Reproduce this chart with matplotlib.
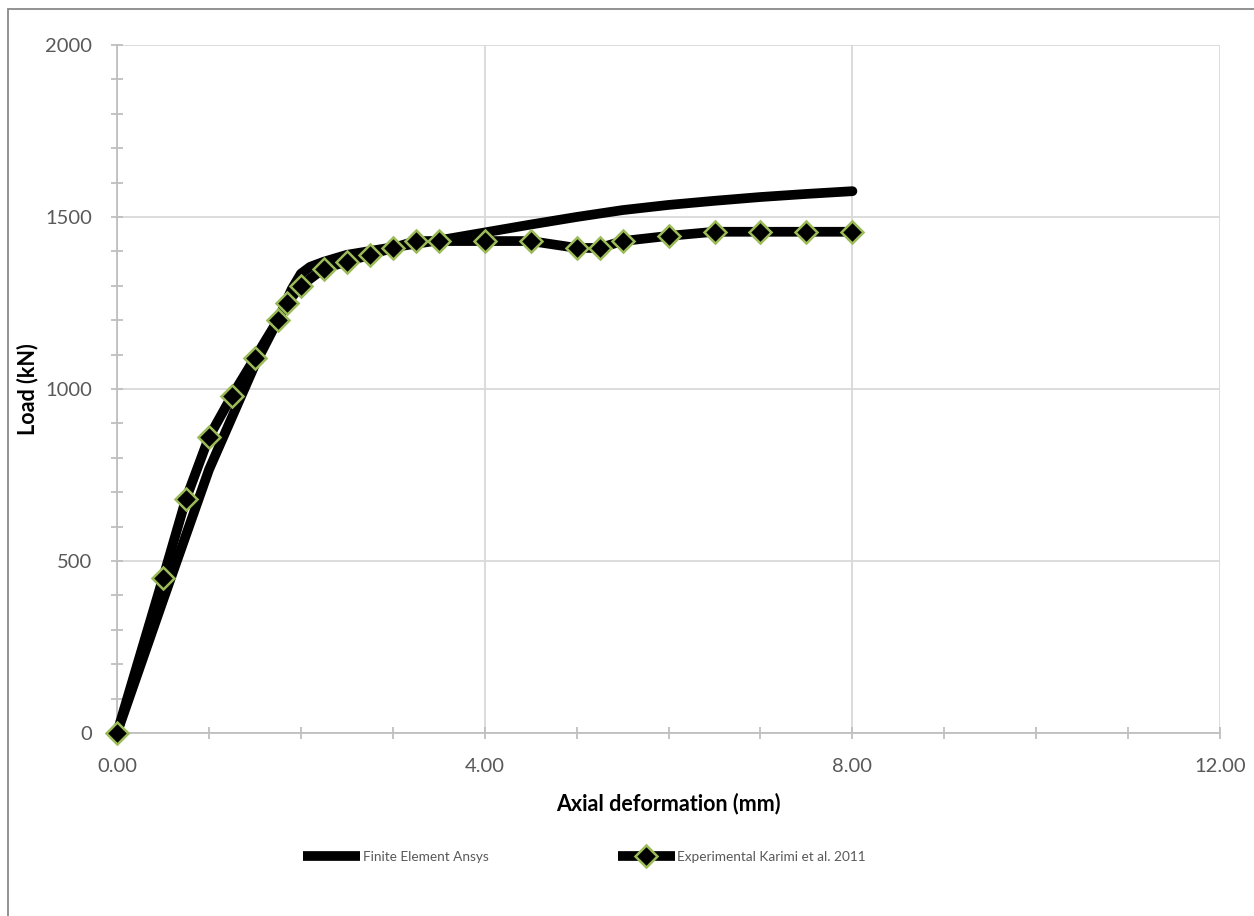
import matplotlib.pyplot as plt
from matplotlib.ticker import MultipleLocator, FormatStrFormatter
from matplotlib.patches import Rectangle

plt.rcParams['font.family'] = ['Lato', 'DejaVu Sans']

# Finite element curve (Ansys)
fe_x = [0, 0.5, 1.0, 1.5, 1.75, 1.9, 2.0, 2.1, 2.25, 2.5, 3.0, 3.5, 4.0,
        4.5, 5.0, 5.5, 6.0, 6.5, 7.0, 7.5, 8.0]
fe_y = [0, 385, 765, 1070, 1200, 1290, 1335, 1355, 1370, 1390, 1412, 1432,
        1455, 1478, 1500, 1520, 1535, 1547, 1558, 1567, 1575]

# Experimental data (Karimi et al. 2011)
exp_x = [0, 0.5, 0.75, 1.0, 1.25, 1.5, 1.75, 1.85, 2.0, 2.25, 2.5, 2.75, 3.0,
         3.25, 3.5, 4.0, 4.5, 5.0, 5.25, 5.5, 6.0, 6.5, 7.0, 7.5, 8.0]
exp_y = [0, 450, 680, 860, 980, 1090, 1200, 1250, 1300, 1350, 1370, 1390, 1410,
         1430, 1430, 1430, 1430, 1410, 1410, 1430, 1445, 1457, 1457, 1457, 1457]

fig = plt.figure(figsize=(12.54, 9.16), dpi=100)
ax = fig.add_axes([0.0933, 0.1998, 0.8797, 0.7511])

ax.plot(fe_x, fe_y, color='black', lw=7, solid_capstyle='round',
        solid_joinstyle='round', label='Finite Element Ansys', zorder=3)
ax.plot(exp_x, exp_y, color='black', lw=7, solid_joinstyle='round',
        marker='D', ms=11, mfc='black', mec='#9BBB59', mew=1.8,
        label='Experimental Karimi et al. 2011', zorder=4, clip_on=False)

ax.set_xlim(0, 12)
ax.set_ylim(0, 2000)
ax.xaxis.set_major_locator(MultipleLocator(4))
ax.xaxis.set_minor_locator(MultipleLocator(1))
ax.yaxis.set_major_locator(MultipleLocator(500))
ax.yaxis.set_minor_locator(MultipleLocator(100))
ax.xaxis.set_major_formatter(FormatStrFormatter('%.2f'))

ax.grid(True, which='major', color='#D9D9D9', lw=1.3, zorder=0)
ax.set_axisbelow(True)
for s in ['top', 'right']:
    ax.spines[s].set_visible(False)
for s in ['left', 'bottom']:
    ax.spines[s].set_color('#BFBFBF')
    ax.spines[s].set_linewidth(1.3)

ax.tick_params(which='both', direction='inout', color='#BFBFBF', width=1.3,
               length=8, labelsize=14.5, labelcolor='#595959')
ax.tick_params(axis='x', pad=14)
ax.tick_params(axis='y', pad=14)

ax.set_xlabel('Axial deformation (mm)', fontsize=15.5, fontweight='bold', labelpad=13)
ax.set_ylabel('Load (kN)', fontsize=15.5, fontweight='bold', labelpad=5)

leg = fig.legend(loc='center', bbox_to_anchor=(0.466, 0.0644), ncol=2, frameon=False,
                 fontsize=9.8, handlelength=4.2, columnspacing=9.5, handletextpad=0.2)
for t in leg.get_texts():
    t.set_color('#595959')
for ln in leg.get_lines():
    ln.set_solid_capstyle('butt')

fig.patches.append(Rectangle((0.006, -0.1), 1.1, 1.09, transform=fig.transFigure,
                             fill=False, edgecolor='#898989', lw=1.3))

fig.savefig('out.png', dpi=100)
